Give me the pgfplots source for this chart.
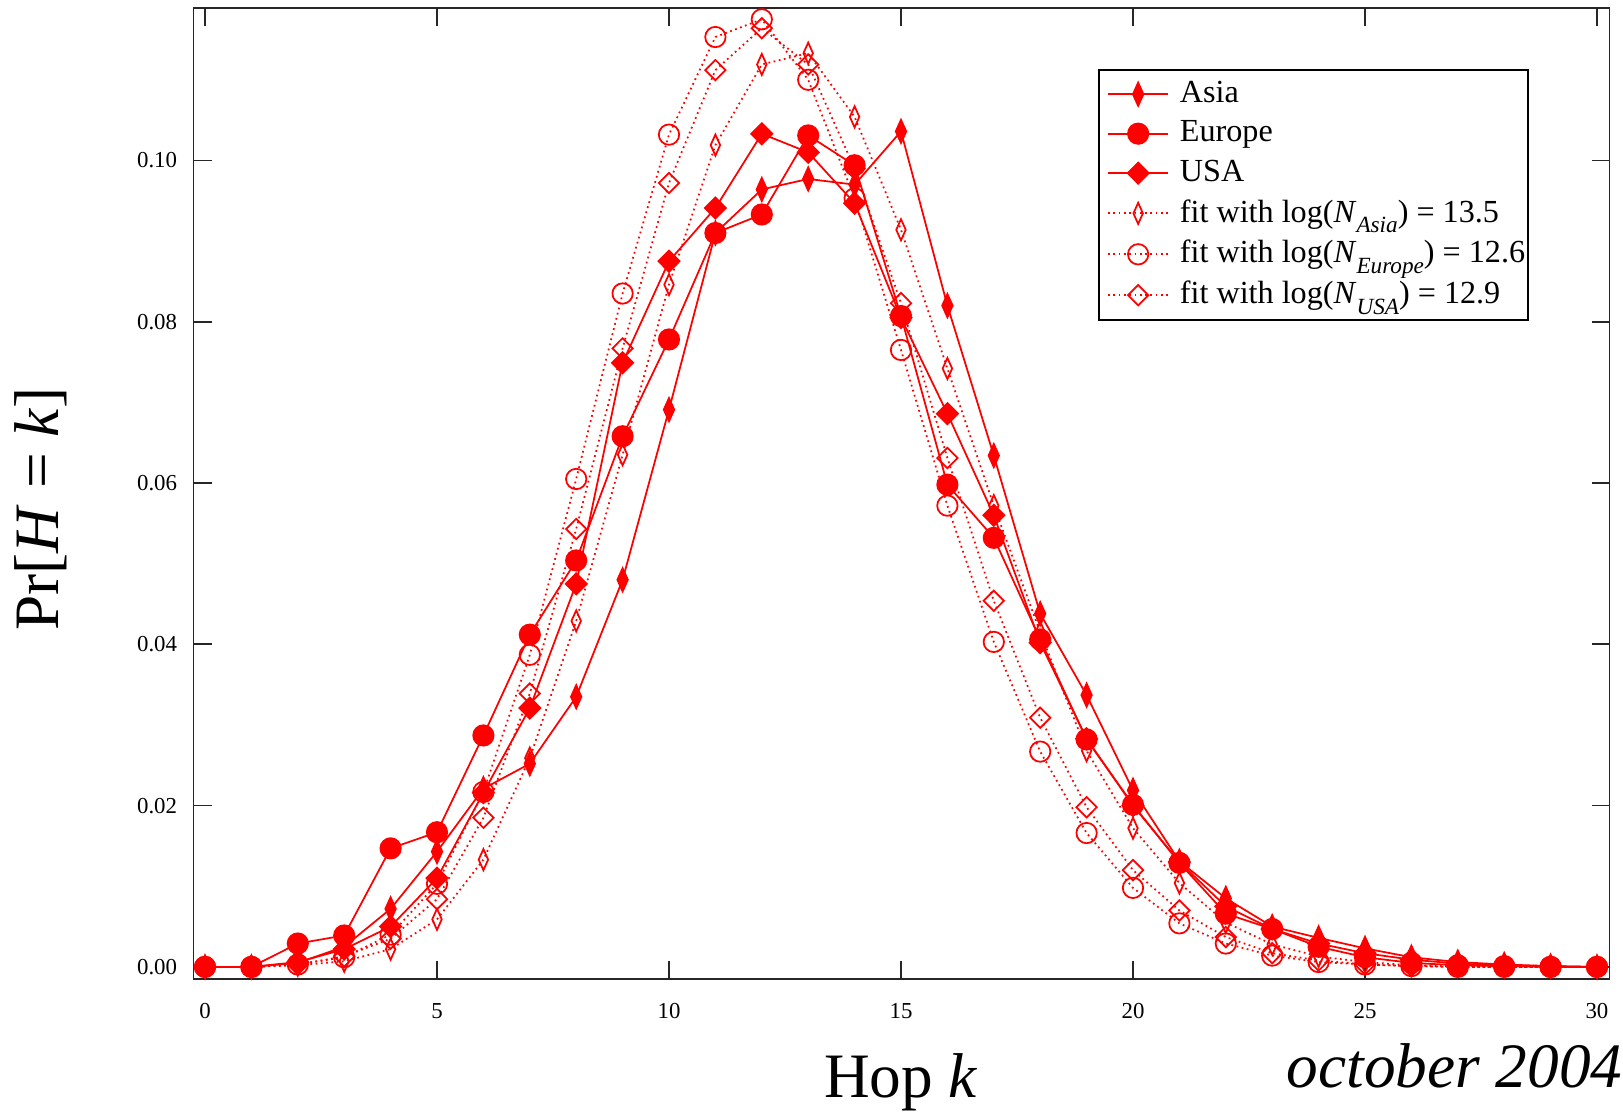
\documentclass[border=0pt]{standalone}
\usepackage{fontspec}
\setmainfont{Liberation Serif}
\usepackage{pgfplots}
\pgfplotsset{compat=1.18}
\definecolor{pr}{RGB}{255,0,0}
\newcommand\sub[1]{\raisebox{-0.32em}{\fontsize{6.6}{7}\selectfont\textit{#1}}}

\pgfplotstableread{
k v
0 0
1 0
2 0.0005
3 0.0025
4 0.0072
5 0.0143
6 0.0221
7 0.0252
8 0.0335
9 0.0480
10 0.0691
11 0.0910
12 0.0964
13 0.0977
14 0.0970
15 0.1036
16 0.0820
17 0.0634
18 0.0438
19 0.0337
20 0.0219
21 0.0131
22 0.0085
23 0.0050
24 0.0036
25 0.0023
26 0.0012
27 0.0006
28 0.0003
29 0.0001
30 0
}\asia

\pgfplotstableread{
k v
0 0
1 0
2 0.0029
3 0.0039
4 0.0147
5 0.0167
6 0.0287
7 0.0412
8 0.0504
9 0.0658
10 0.0778
11 0.0910
12 0.0933
13 0.1031
14 0.0994
15 0.0807
16 0.0598
17 0.0532
18 0.0406
19 0.0282
20 0.0201
21 0.0129
22 0.0066
23 0.0047
24 0.0025
25 0.0012
26 0.0005
27 0.0002
28 0.0001
29 0
30 0
}\europe

\pgfplotstableread{
k v
0 0
1 0
2 0.0006
3 0.0022
4 0.0050
5 0.0110
6 0.0216
7 0.0321
8 0.0475
9 0.0749
10 0.0875
11 0.0941
12 0.1033
13 0.1010
14 0.0947
15 0.0805
16 0.0686
17 0.0560
18 0.0402
19 0.0283
20 0.0200
21 0.0130
22 0.0075
23 0.0047
24 0.0029
25 0.0017
26 0.0009
27 0.0004
28 0.0002
29 0.0001
30 0
}\usa

\pgfplotstableread{
k v
0 0
1 0
2 0.0002
3 0.0007
4 0.0022
5 0.0059
6 0.0133
7 0.0259
8 0.0429
9 0.0635
10 0.0846
11 0.1019
12 0.1119
13 0.1133
14 0.1054
15 0.0914
16 0.0742
17 0.0572
18 0.0415
19 0.0268
20 0.0172
21 0.0104
22 0.0055
23 0.0028
24 0.0013
25 0.0006
26 0.0002
27 0.0001
28 0
29 0
30 0
}\fitasia

\pgfplotstableread{
k v
0 0
1 0
2 0.0003
3 0.0012
4 0.0040
5 0.0103
6 0.0217
7 0.0387
8 0.0605
9 0.0835
10 0.1032
11 0.1153
12 0.1175
13 0.1100
14 0.0953
15 0.0765
16 0.0572
17 0.0403
18 0.0267
19 0.0166
20 0.0098
21 0.0054
22 0.0029
23 0.0014
24 0.0006
25 0.0003
26 0.0001
27 0
28 0
29 0
30 0
}\fiteurope

\pgfplotstableread{
k v
0 0
1 0
2 0.0003
3 0.0013
4 0.0035
5 0.0084
6 0.0185
7 0.0339
8 0.0543
9 0.0767
10 0.0972
11 0.1112
12 0.1164
13 0.1119
14 0.0990
15 0.0823
16 0.0631
17 0.0454
18 0.0309
19 0.0198
20 0.0120
21 0.0070
22 0.0037
23 0.0017
24 0.0008
25 0.0003
26 0.0001
27 0
28 0
29 0
30 0
}\fitusa

\begin{document}
\begin{tikzpicture}
\useasboundingbox (-1.935,-1.32) rectangle (14.295,9.79);
\begin{axis}[
  at={(0,0)}, anchor=south west, scale only axis,
  width=14.16cm, height=9.71cm,
  xmin=-0.248, xmax=30.27, ymin=-0.0015, ymax=0.1189,
  xtick={0,5,10,15,20,25,30},
  ytick={0,0.02,0.04,0.06,0.08,0.10},
  tick align=inside, major tick length=1.8mm,
  axis line style={black!85, line width=0.5pt},
  every tick/.style={black!85, line width=0.5pt},
  /pgf/number format/assume math mode=true,
  scaled y ticks=false,
  yticklabel style={/pgf/number format/.cd, fixed, fixed zerofill, precision=2, /tikz/.cd, font=\fontsize{6.5}{7}\selectfont, xshift=-0.4mm},
  xticklabel style={font=\fontsize{6.5}{7}\selectfont, yshift=-1.2mm},
  legend cell align=left,
  legend image code/.code={\path (0cm,0cm); \draw[mark repeat=2,mark phase=2,#1] plot coordinates {(0.07cm,0cm) (0.37cm,0cm) (0.67cm,0cm)};},
  legend style={at={(0.639,0.937)}, anchor=north west, draw=black, line width=0.5pt,
    font=\fontsize{9.15}{10.5}\selectfont, row sep=0.5pt, column sep=2.5pt, inner xsep=0.3pt, inner ysep=1.5pt,
    nodes={inner xsep=0.6pt, inner ysep=1.6pt}},
  every axis plot/.append style={line width=0.5pt},
]
\addplot[pr, mark=diamond*, mark size=3.3pt, mark options={xscale=0.6, solid, fill=pr}] table[x=k,y=v] {\asia};
\addlegendentry{Asia}
\addplot[pr, mark=*, mark size=2.9pt, mark options={solid, fill=pr}] table[x=k,y=v] {\europe};
\addlegendentry{Europe}
\addplot[pr, mark=diamond*, mark size=3.0pt, mark options={xscale=1.33, solid, fill=pr}] table[x=k,y=v] {\usa};
\addlegendentry{USA}
\addplot[pr, densely dotted, mark=diamond, mark size=3.0pt, mark options={xscale=0.6, solid}] table[x=k,y=v] {\fitasia};
\addlegendentry{fit with log(\textit{N}\sub{Asia}) = 13.5}
\addplot[pr, densely dotted, mark=o, mark size=2.9pt, mark options={solid}] table[x=k,y=v] {\fiteurope};
\addlegendentry{fit with log(\textit{N}\sub{Europe}) = 12.6}
\addplot[pr, densely dotted, mark=diamond, mark size=2.9pt, mark options={xscale=1.33, solid}] table[x=k,y=v] {\fitusa};
\addlegendentry{fit with log(\textit{N}\sub{USA}) = 12.9}
\end{axis}
\node[anchor=base, font=\fontsize{18}{20}\selectfont, inner sep=0pt] at (7.075,-1.18) {Hop \textit{k}};
\node[anchor=base east, font=\fontsize{18}{20}\selectfont, inner sep=0pt] at (14.295,-1.08) {\textit{october 2004}};
\node[rotate=90, font=\fontsize{18}{20}\selectfont, inner sep=0pt] at (-1.525,4.70) {Pr[\textit{H} = \textit{k}]};
\end{tikzpicture}
\end{document}
